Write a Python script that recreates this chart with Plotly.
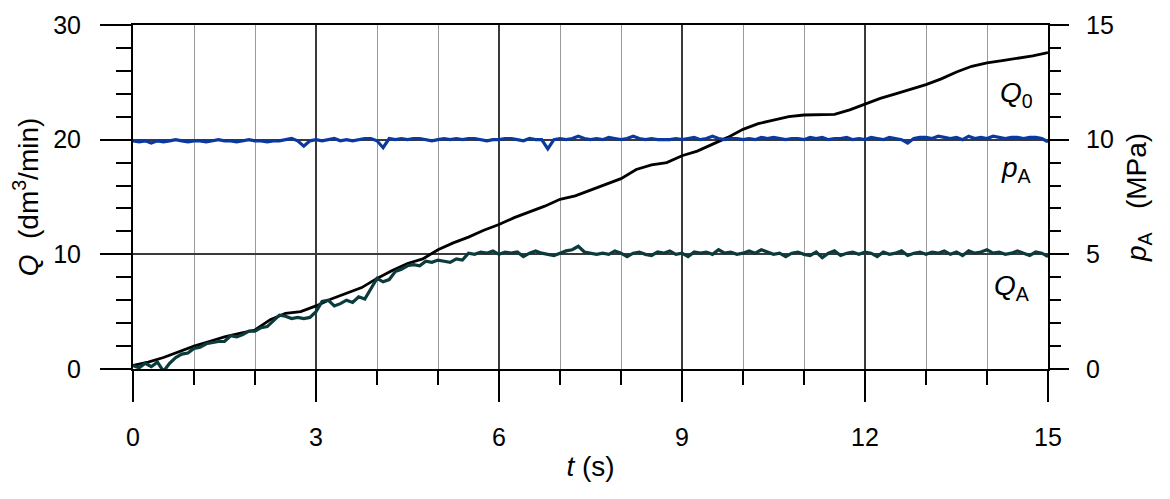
import plotly.graph_objects as go

# ---------------- data ----------------
# Q0 sampled every 0.25 s
t_q0 = [i * 0.25 for i in range(61)]
q0 = [0.3, 0.6, 1.0, 1.5, 2.0, 2.4, 2.8, 3.1, 3.4, 4.3, 4.85, 5.0,
      5.5, 6.1, 6.6, 7.1, 7.9, 8.6, 9.2, 9.6, 10.4, 11.0, 11.5, 12.1,
      12.6, 13.2, 13.7, 14.2, 14.8, 15.1, 15.6, 16.1, 16.6, 17.4, 17.8, 18.0,
      18.6, 19.0, 19.6, 20.2, 20.9, 21.4, 21.7, 22.0, 22.15, 22.15, 22.2, 22.6,
      23.1, 23.6, 24.0, 24.4, 24.8, 25.3, 25.9, 26.4, 26.7, 26.9, 27.1, 27.3,
      27.6]

# QA and pA sampled every 0.1 s
t_fine = [i / 10 for i in range(151)]
qa = [0.3, 0.1, 0.5, 0.2, 0.6, -0.2, 0.5, 1.0, 1.3, 1.4,
      1.8, 1.9, 2.2, 2.3, 2.4, 2.4, 2.9, 2.8, 3.0, 3.3,
      3.3, 3.6, 3.7, 4.2, 4.7, 4.6, 4.4, 4.5, 4.4, 4.5,
      5.0, 5.9, 6.0, 5.5, 5.7, 6.0, 5.8, 6.3, 6.1, 7.0,
      7.9, 7.6, 7.8, 8.5, 8.7, 9.0, 9.1, 9.0, 9.4, 9.3,
      9.5, 9.4, 9.3, 9.6, 9.5, 10.1, 10.0, 10.2, 10.1, 10.3,
      10.0, 10.2, 10.1, 10.2, 9.8, 10.1, 10.3, 10.1, 10.0, 9.9,
      10.1, 10.3, 10.4, 10.7, 10.2, 10.1, 10.0, 10.1, 10.0, 10.3,
      10.1, 9.8, 10.1, 10.2, 10.0, 9.9, 10.2, 10.1, 10.3, 10.0,
      10.1, 9.8, 10.2, 10.1, 10.2, 10.0, 10.4, 10.1, 10.2, 10.0,
      10.1, 10.3, 10.1, 10.4, 10.2, 10.0, 10.1, 9.8, 10.1, 10.2,
      10.0, 9.9, 10.2, 9.7, 10.1, 10.3, 9.9, 10.1, 10.2, 10.0,
      10.2, 10.1, 9.8, 10.2, 10.0, 10.1, 10.3, 9.9, 10.1, 10.2,
      10.0, 10.2, 10.1, 10.3, 10.0, 10.2, 9.9, 10.3, 10.1, 10.2,
      10.4, 10.1, 10.2, 10.0, 10.1, 10.3, 10.1, 9.9, 10.2, 10.1,
      9.8]
pa = [9.95, 9.9, 9.95, 9.85, 9.95, 9.9, 9.95, 10.0, 9.95, 9.9,
      9.95, 9.95, 9.9, 9.95, 10.0, 9.95, 9.95, 9.9, 9.95, 10.0,
      9.95, 9.95, 9.9, 9.95, 9.95, 10.0, 10.05, 9.95, 9.72, 9.95,
      10.0, 9.95, 10.0, 10.05, 9.95, 10.0, 9.95, 10.0, 10.05, 10.05,
      9.95, 9.65, 10.05, 10.0, 10.05, 10.0, 10.05, 10.05, 10.0, 9.95,
      10.0, 10.05, 10.0, 10.05, 10.0, 10.05, 10.05, 10.0, 9.95, 10.0,
      10.0, 10.05, 10.05, 10.0, 9.95, 10.05, 10.0, 10.0, 9.6, 10.0,
      10.05, 10.0, 10.05, 10.15, 10.05, 10.0, 10.05, 10.0, 10.1, 10.05,
      10.0, 10.05, 10.15, 10.05, 10.0, 10.05, 10.0, 10.0, 10.0, 10.05,
      10.0, 10.05, 10.1, 10.0, 10.05, 10.15, 10.05, 10.0, 10.05, 10.05,
      10.0, 10.05, 10.0, 10.1, 10.05, 10.1, 10.05, 10.0, 10.05, 10.05,
      10.0, 10.1, 10.05, 10.1, 10.0, 10.05, 10.05, 10.1, 10.0, 10.05,
      10.0, 10.1, 10.05, 10.0, 10.1, 10.05, 10.0, 9.85, 10.05, 10.1,
      10.1, 10.05, 10.15, 10.1, 10.05, 10.1, 10.0, 10.15, 10.05, 10.1,
      10.05, 10.15, 10.1, 10.05, 10.1, 10.1, 10.05, 10.1, 10.1, 10.05,
      9.9]

x_ticks = [0, 3, 6, 9, 12, 15]
yl_ticks = [0, 10, 20, 30]
yr_ticks = [0, 5, 10, 15]

# ---------------- styling ----------------
FONT = "Liberation Sans, Arial, sans-serif"
C_Q0 = "#000000"
C_QA = "#0b3c3b"
C_PA = "#0a39a0"

fig = go.Figure()
fig.add_trace(go.Scatter(x=t_fine, y=pa, yaxis="y2", mode="lines",
                         line=dict(color=C_PA, width=3.2), name="pA"))
fig.add_trace(go.Scatter(x=t_q0, y=q0, mode="lines",
                         line=dict(color=C_Q0, width=2.8), name="Q0"))
fig.add_trace(go.Scatter(x=t_fine, y=qa, mode="lines",
                         line=dict(color=C_QA, width=3.2), name="QA"))

tick_font = dict(family=FONT, size=25, color="black")
title_font = dict(family=FONT, size=28, color="black")

fig.update_layout(
    width=1162, height=491,
    margin=dict(l=125, r=122, t=17, b=130),
    paper_bgcolor="white", plot_bgcolor="white",
    showlegend=False,
    font=tick_font,
    xaxis=dict(
        range=[0, 15], tickvals=x_ticks, ticks="outside", ticklen=31,
        tickwidth=1.5, tickcolor="black", automargin=False,
        showgrid=True, gridcolor="#3a3a3a", gridwidth=1.5,
        showline=True, linecolor="black", linewidth=2, mirror=True,
        zeroline=False, ticklabelstandoff=14,
        minor=dict(dtick=1, ticks="outside", ticklen=14, tickwidth=1.5,
                   tickcolor="black", showgrid=True, gridcolor="#9a9a9a",
                   gridwidth=1),
        title=dict(text="<i>t</i> (s)", font=title_font, standoff=6),
        tickfont=tick_font,
    ),
    yaxis=dict(
        range=[0, 30], tickvals=yl_ticks, ticks="outside", ticklen=31,
        tickwidth=1.5, tickcolor="black", automargin=False,
        showgrid=True, gridcolor="#3a3a3a", gridwidth=1.5,
        showline=True, linecolor="black", linewidth=2, mirror=True,
        zeroline=False, ticklabelstandoff=14,
        minor=dict(dtick=2, ticks="outside", ticklen=15, tickwidth=1.5,
                   tickcolor="black", showgrid=False),
        title=dict(text="<i>Q</i>&nbsp;&nbsp;(dm<sup>3</sup>/min)",
                   font=title_font, standoff=8),
        tickfont=tick_font,
    ),
    yaxis2=dict(
        range=[0, 15], tickvals=yr_ticks, overlaying="y", side="right",
        ticks="outside", ticklen=19, tickwidth=1.5, tickcolor="black",
        automargin=False,
        showgrid=False, showline=True, linecolor="black", linewidth=2,
        zeroline=False, ticklabelstandoff=12,
        minor=dict(dtick=1, ticks="outside", ticklen=11, tickwidth=1.5,
                   tickcolor="black", showgrid=False),
        title=dict(text="<i>p</i><sub>A</sub>&nbsp;&nbsp;&nbsp;(MPa)",
                   font=title_font, standoff=14),
        tickfont=tick_font,
    ),
)

ann_font = dict(family=FONT, size=28, color="black")
labels = [
    ("<i>Q</i><sub>0</sub>", 14.49, 23.9),
    ("<i>p</i><sub>A</sub>", 14.49, 17.4),
    ("<i>Q</i><sub>A</sub>", 14.41, 7.15),
]
for txt, xv, yv in labels:
    fig.add_annotation(x=xv, y=yv, text=txt, showarrow=False, font=ann_font,
                       xanchor="center", yanchor="middle")

fig.write_html("out.html")
